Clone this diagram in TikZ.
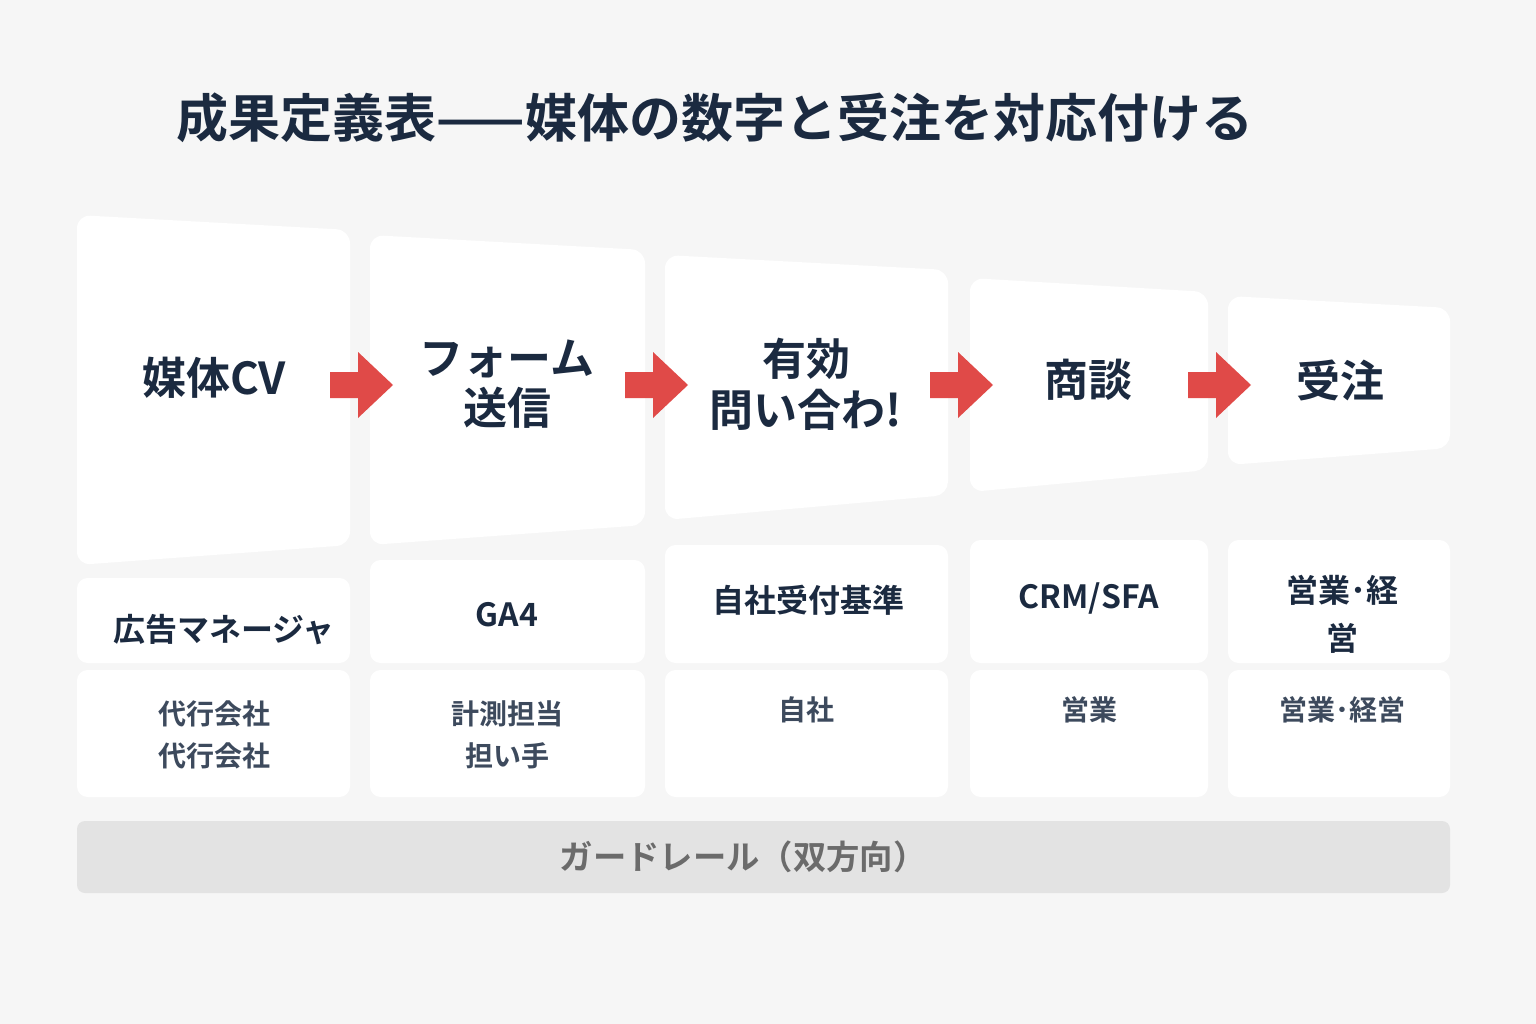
\documentclass[tikz,border=0pt]{standalone}
\usepackage{fontspec}
\setmainfont{Noto Sans CJK JP}[BoldFont={* Bold}]
\begin{document}
\definecolor{ink}{HTML}{1B2A40}
\definecolor{red}{HTML}{E04A48}
\begin{tikzpicture}[x=0.75pt,y=-0.75pt,
  panel/.style={fill=white,rounded corners=10pt,draw=none},
  big/.style={font=\fontsize{33}{38}\selectfont\bfseries,text=ink,align=center},
  mid/.style={font=\fontsize{24}{26}\selectfont\bfseries,text=ink,align=center},
  sm/.style={font=\fontsize{21}{32}\selectfont\bfseries,text=ink!85,align=center},
  arr/.style={fill=red,draw=none}]
\fill[white!96.5!black] (0,0) rectangle (1536,1024);
\useasboundingbox (0,0) rectangle (1536,1024);
\node[font=\fontsize{39}{42}\selectfont\bfseries,text=ink,anchor=west] (title) at (172,118) {成果定義表——媒体の数字と受注を対応付ける};
% top panels
\fill[panel] (77,215)--(350,230)--(350,545)--(77,565)--cycle;
\fill[panel] (370,235)--(645,250)--(645,525)--(370,545)--cycle;
\fill[panel] (665,255)--(948,270)--(948,495)--(665,520)--cycle;
\fill[panel] (970,278)--(1208,292)--(1208,470)--(970,492)--cycle;
\fill[panel] (1228,296)--(1450,308)--(1450,448)--(1228,465)--cycle;
\node[big] (p1) at (214,378) {媒体CV};
\node[big] (p2) at (507,384) {フォーム\\送信};
\node[big] (p3) at (806,384) {有効\\問い合わ!};
\node[big] (p4) at (1088,380) {商談};
\node[big] (p5) at (1340,380) {受注};
% arrows
\foreach \x in {330,625,930,1188}{
 \fill[arr] (\x,372)--(\x+28,372)--(\x+28,352)--(\x+63,385)--(\x+28,418)--(\x+28,398)--(\x,398)--cycle;}
% lower cells
\foreach \a/\b/\t in {77/350/578,370/645/560,665/948/545,970/1208/540,1228/1450/540}{
 \fill[panel,rounded corners=8pt] (\a,\t) rectangle (\b,663);
 \fill[panel,rounded corners=8pt] (\a,670) rectangle (\b,797);}
\node[mid] (t1) at (224,630) {広告マネージャ};
\node[mid] (t2) at (507,615) {GA4};
\node[mid] (t3) at (808,600) {自社受付基準};
\node[mid] (t4) at (1089,598) {CRM/SFA};
\node[mid,font=\fontsize{24}{36}\selectfont\bfseries] (t5) at (1342,614) {営業･経\\営};
\node[sm] (b1) at (214,735) {代行会社\\代行会社};
\node[sm] (b2) at (507,735) {計測担当\\担い手};
\node[sm] (b3) at (806,710) {自社};
\node[sm] (b4) at (1089,710) {営業};
\node[sm] (b5) at (1342,710) {営業･経営};
% guardrail
\fill[black!11,rounded corners=6pt] (77,821) rectangle (1450,893);
\node[font=\fontsize{25}{28}\selectfont\bfseries,text=black!58] (g) at (743,857) {ガードレール（双方向）};
\end{tikzpicture}
\end{document}
